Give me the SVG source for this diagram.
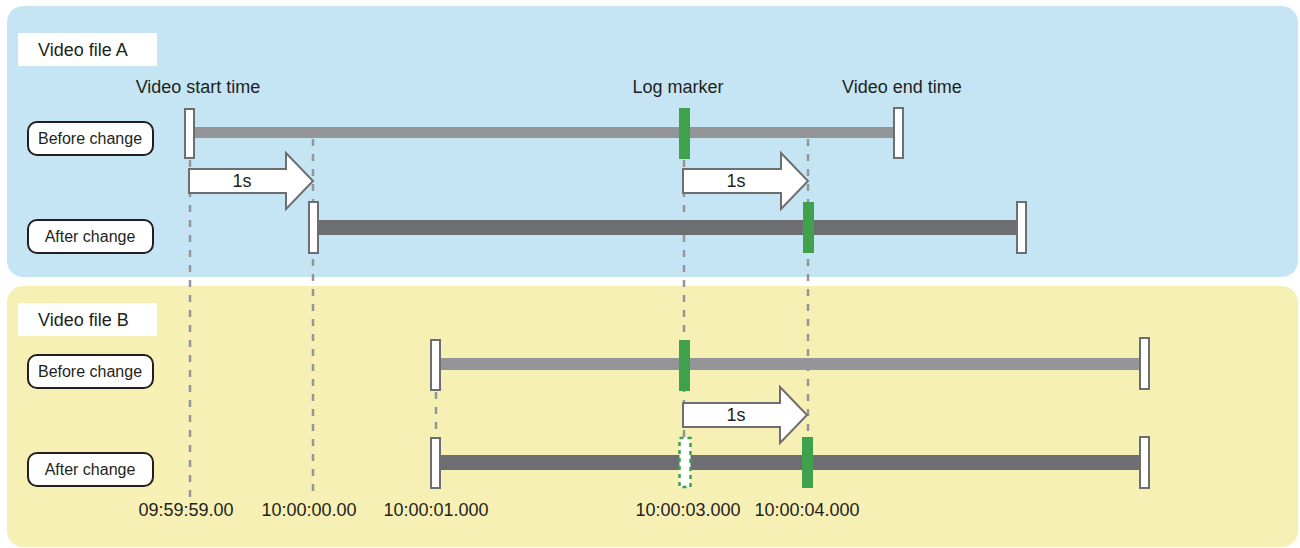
<svg xmlns="http://www.w3.org/2000/svg" width="1300" height="548" viewBox="0 0 1300 548">
<style>
text{font-family:"Liberation Sans",Arial,sans-serif;fill:#231f20}
.t18{font-size:18px}
.t16{font-size:16px}
.mid{text-anchor:middle}
.pill{fill:#fff;stroke:#231f20;stroke-width:2}
.tick{fill:#fff;stroke:#6d6e71;stroke-width:2}
.barb{fill:#939598}
.bara{fill:#6d6e71}
.grn{fill:#3fa14b}
.arrow{fill:#fff;stroke:#6d6e71;stroke-width:2;stroke-linejoin:miter}
.dash{stroke:#939598;stroke-width:2.5;stroke-dasharray:7 8;fill:none}
</style>
<g id="panelA">
<rect x="7" y="6" width="1291" height="271" rx="16" fill="#c6e5f4"/>
<rect x="18" y="33" width="139" height="33" fill="#fff"/>
<text class="t18" x="38" y="56">Video file A</text>
</g>
<g id="panelB">
<rect x="7" y="286" width="1291" height="261" rx="16" fill="#f6f0b5"/>
<rect x="18" y="303" width="139" height="33" fill="#fff"/>
<text class="t18" x="38" y="326">Video file B</text>
</g>
<g id="labels">
<text class="t18 mid" x="198" y="93">Video start time</text>
<text class="t18 mid" x="678" y="93">Log marker</text>
<text class="t18 mid" x="902" y="93">Video end time</text>
</g>
<g id="connectors">
<line class="dash" x1="190" y1="160" x2="190" y2="498"/>
<line class="dash" x1="313" y1="139" x2="313" y2="498"/>
<line class="dash" x1="808" y1="139" x2="808" y2="437"/>
<line class="dash" x1="684" y1="160" x2="684" y2="437"/>
<line class="dash" x1="436" y1="392" x2="436" y2="437"/>
</g>
<g id="pillA1"><rect class="pill" x="28" y="122" width="125" height="33" rx="9"/><text class="t16 mid" x="90" y="144">Before change</text></g>
<g id="pillA2"><rect class="pill" x="28" y="220" width="125" height="33" rx="9"/><text class="t16 mid" x="90" y="242">After change</text></g>
<g id="pillB1"><rect class="pill" x="28" y="355" width="125" height="33" rx="9"/><text class="t16 mid" x="90" y="377">Before change</text></g>
<g id="pillB2"><rect class="pill" x="28" y="453" width="125" height="33" rx="9"/><text class="t16 mid" x="90" y="475">After change</text></g>
<g id="timelineA-before">
<rect class="barb" x="194" y="127" width="700" height="11"/>
<rect class="tick" x="185" y="109" width="9" height="49"/>
<rect class="tick" x="894" y="108" width="9" height="50"/>
<rect class="grn" x="679" y="108" width="11" height="51"/>
</g>
<g id="timelineA-after">
<rect class="bara" x="318" y="220" width="700" height="15"/>
<rect class="tick" x="309" y="202" width="9" height="51"/>
<rect class="tick" x="1017" y="202" width="9" height="51"/>
<rect class="grn" x="803" y="202" width="11" height="51"/>
</g>
<g id="timelineB-before">
<rect class="barb" x="441" y="358" width="699" height="12"/>
<rect class="tick" x="431" y="340" width="9" height="50"/>
<rect class="tick" x="1140" y="338" width="9" height="51"/>
<rect class="grn" x="679" y="340" width="11" height="51"/>
</g>
<g id="timelineB-after">
<rect class="bara" x="441" y="455" width="699" height="15"/>
<rect class="tick" x="431" y="438" width="9" height="50"/>
<rect class="tick" x="1140" y="437" width="9" height="51"/>
<rect x="679.5" y="438" width="11" height="49" fill="#fff" stroke="#3fa14b" stroke-width="2.5" stroke-dasharray="4 4"/>
<rect class="grn" x="802" y="437" width="11" height="51"/>
</g>
<g id="arrowA1">
<path class="arrow" d="M189 169 H286 V153 L313 181 L286 209 V193 H189 Z"/>
<text class="t18 mid" x="242" y="187">1s</text>
</g>
<g id="arrowA2">
<path class="arrow" d="M683 169 H781 V153 L808 181 L781 209 V193 H683 Z"/>
<text class="t18 mid" x="736" y="187">1s</text>
</g>
<g id="arrowB">
<path class="arrow" d="M683 403 H780 V387 L807 415 L780 443 V427 H683 Z"/>
<text class="t18 mid" x="736" y="421">1s</text>
</g>
<g id="timestamps">
<text class="t18 mid" x="186" y="516">09:59:59.00</text>
<text class="t18 mid" x="309" y="516">10:00:00.00</text>
<text class="t18 mid" x="436" y="516">10:00:01.000</text>
<text class="t18 mid" x="688" y="516">10:00:03.000</text>
<text class="t18 mid" x="807" y="516">10:00:04.000</text>
</g>
</svg>
